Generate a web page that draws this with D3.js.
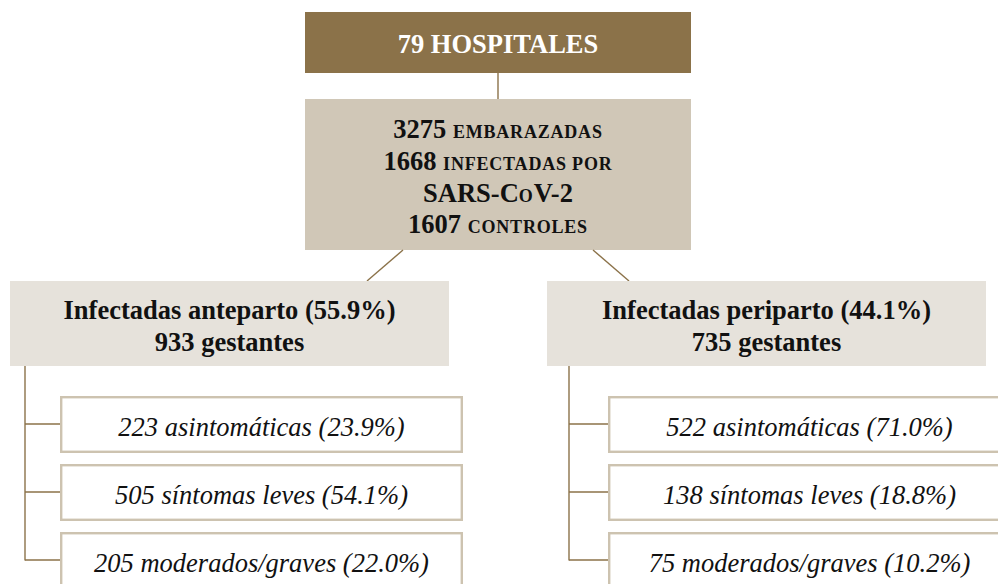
<!DOCTYPE html>
<html><head><meta charset="utf-8">
<script src="https://cdn.jsdelivr.net/npm/d3@7"></script>
<style>html,body{margin:0;padding:0;background:#fff;overflow:hidden}</style>
</head><body>
<svg id="c" width="998" height="584"></svg>
<script>
// ---- data ----
const hospitals = 79;
const centerCounts = [3275, 1668, 1607];
const centerLabels = ["embarazadas", "infectadas por", "controles"];
const groupNames = ["Infectadas anteparto", "Infectadas periparto"];
const groupPct = [55.9, 44.1];
const groupCounts = [933, 735];
const childLabels = ["asintomáticas", "síntomas leves", "moderados/graves"];
const childCounts = [[223, 505, 205], [522, 138, 75]];
const childPct = [[23.9, 54.1, 22.0], [71.0, 18.8, 10.2]];

// ---- styling / layout ----
const C_DARK = "#8B7249", C_MID = "#D0C7B7", C_LIGHT = "#E6E2DB", C_BORDER = "#CDC3B0";
const FONT = "'Liberation Serif','Times New Roman',serif";
const svg = d3.select("#c");

const groupX = d3.scaleOrdinal().domain([0, 1]).range([10, 547]);
const stemX = d3.scaleOrdinal().domain([0, 1]).range([25, 569]);
const childX = d3.scaleOrdinal().domain([0, 1]).range([60, 608]);
const childY = d3.scaleBand().domain([0, 1, 2]).range([396, 589]).paddingInner(0.162).paddingOuter(0);
const groupW = 439, childW = 403;

// top box
svg.append("rect").attr("x", 305).attr("y", 12).attr("width", 386).attr("height", 61).attr("fill", C_DARK);
svg.append("text").attr("x", 498).attr("y", 53).attr("text-anchor", "middle")
  .attr("font-family", FONT).attr("font-weight", "bold").attr("font-size", 26.5).attr("fill", "#fff")
  .text(hospitals + " HOSPITALES");

svg.append("line").attr("x1", 498).attr("x2", 498).attr("y1", 73).attr("y2", 99)
  .attr("stroke", C_DARK).attr("stroke-width", 1.4);

// center box
svg.append("rect").attr("x", 305).attr("y", 99).attr("width", 386).attr("height", 151).attr("fill", C_MID);
const baseY = [138, 170, 233];
function scLine(y, parts) {
  const t = svg.append("text").attr("x", 498).attr("y", y).attr("text-anchor", "middle")
    .attr("font-family", FONT).attr("font-weight", "bold").attr("fill", "#111");
  parts.forEach(p => {
    const s = t.append("tspan").text(p.t);
    if (p.sc) s.attr("font-size", 18).attr("letter-spacing", 0.8);
    else s.attr("font-size", 26.5);
  });
}
centerCounts.forEach((n, i) => {
  scLine(baseY[i], [{t: n + " "}, {t: centerLabels[i].toUpperCase(), sc: true}]);
});
scLine(202, [{t: "SARS-C"}, {t: "O", sc: true}, {t: "V-2"}]);

// diagonal connectors
const diag = [[403, 250, 367, 281], [593, 250, 629, 281]];
diag.forEach(d => svg.append("line").attr("x1", d[0]).attr("y1", d[1]).attr("x2", d[2]).attr("y2", d[3])
  .attr("stroke", C_DARK).attr("stroke-width", 1.4));

// groups
groupNames.forEach((name, g) => {
  const x0 = groupX(g);
  svg.append("rect").attr("x", x0).attr("y", 281).attr("width", groupW).attr("height", 85).attr("fill", C_LIGHT);
  const cx = x0 + groupW / 2;
  svg.append("text").attr("x", cx).attr("y", 319).attr("text-anchor", "middle")
    .attr("font-family", FONT).attr("font-weight", "bold").attr("font-size", 26.5).attr("fill", "#111")
    .text(name + " (" + groupPct[g].toFixed(1) + "%)");
  svg.append("text").attr("x", cx).attr("y", 351).attr("text-anchor", "middle")
    .attr("font-family", FONT).attr("font-weight", "bold").attr("font-size", 26.5).attr("fill", "#111")
    .text(groupCounts[g] + " gestantes");

  const vx = stemX(g), bx = childX(g);
  const lastMid = childY(2) + 28;
  svg.append("line").attr("x1", vx).attr("x2", vx).attr("y1", 366).attr("y2", lastMid + 0.5)
    .attr("stroke", C_DARK).attr("stroke-width", 1.4);
  childLabels.forEach((lab, k) => {
    const y0 = childY(k), h = childY.bandwidth(), my = y0 + 28;
    svg.append("line").attr("x1", vx).attr("x2", bx).attr("y1", my).attr("y2", my)
      .attr("stroke", C_DARK).attr("stroke-width", 1.4);
    svg.append("rect").attr("x", bx + 1.2).attr("y", y0 + 1.2).attr("width", childW - 2.4).attr("height", h - 2.4)
      .attr("fill", "#fff").attr("stroke", C_BORDER).attr("stroke-width", 2.4);
    svg.append("text").attr("x", bx + childW / 2).attr("y", y0 + 40).attr("text-anchor", "middle")
      .attr("font-family", FONT).attr("font-style", "italic").attr("font-size", 26.5).attr("fill", "#111")
      .text(childCounts[g][k] + " " + lab + " (" + childPct[g][k].toFixed(1) + "%)");
  });
});
</script>
</body></html>
